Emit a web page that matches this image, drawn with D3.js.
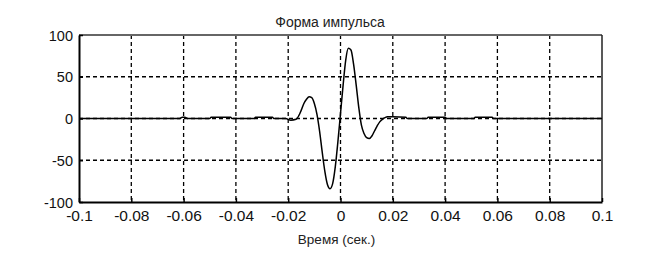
<!DOCTYPE html>
<html><head><meta charset="utf-8">
<script src="https://cdn.jsdelivr.net/npm/d3@7/dist/d3.min.js"></script>
<style>body{margin:0;background:#fff}svg{display:block}</style>
</head><body><svg id="c" width="666" height="255"></svg>
<script>
const tVals = [-0.1,-0.0615,-0.0605,-0.0595,-0.0585,-0.05,-0.0495,-0.042,-0.0415,-0.033,-0.0325,-0.026,-0.0255,-0.021,-0.019,-0.017,-0.016,-0.015,-0.014,-0.013,-0.012,-0.011,-0.010,-0.009,-0.008,-0.007,-0.006,-0.005,-0.004,-0.003,-0.002,-0.001,0,0.001,0.002,0.003,0.004,0.005,0.006,0.007,0.008,0.009,0.010,0.011,0.012,0.013,0.014,0.015,0.016,0.017,0.018,0.020,0.025,0.0255,0.033,0.0335,0.040,0.0405,0.051,0.0515,0.058,0.0585,0.1];
const yVals = [0,0,1.5,1.5,0,0,1.5,1.5,0,0,1.5,1.5,0,0,-2,-1,3,10,18,23,26,25,18,5,-15,-40,-63,-79,-84,-78,-58,-28,6,40,70,84,82,65,40,13,-8,-18,-23,-24,-21,-15,-9,-4,-1,1,2,2,1.5,0,0,1.5,1.5,0,0,1.5,1.5,0,0];
const xTicks = [-0.1,-0.08,-0.06,-0.04,-0.02,0,0.02,0.04,0.06,0.08,0.1];
const yTicks = [-100,-50,0,50,100];
const title = "Форма импульса";
const xLabel = "Время (сек.)";

const svg = d3.select("#c");
const L=79,R=602,T=35,B=202;
const x = d3.scaleLinear().domain([-0.1,0.1]).range([L,R]);
const y = d3.scaleLinear().domain([-100,100]).range([B,T]);
const font = "'Liberation Sans', Arial, sans-serif";

// grid
svg.append("g").selectAll("line").data(xTicks.slice(1,-1)).join("line")
  .attr("x1",d=>x(d)).attr("x2",d=>x(d)).attr("y1",T).attr("y2",B)
  .attr("stroke","#000").attr("stroke-width",1.3).attr("stroke-dasharray","4,3");
svg.append("g").selectAll("line").data(yTicks.slice(1,-1)).join("line")
  .attr("x1",L).attr("x2",R).attr("y1",d=>y(d)).attr("y2",d=>y(d))
  .attr("stroke","#000").attr("stroke-width",1.3).attr("stroke-dasharray","4,3");

// frame top/right
svg.append("line").attr("x1",L).attr("x2",R).attr("y1",T).attr("y2",T).attr("stroke","#666").attr("stroke-width",2);
svg.append("line").attr("x1",R).attr("x2",R).attr("y1",T).attr("y2",B).attr("stroke","#222").attr("stroke-width",1.5);

// axes
const fmt = d=> d===0?"0":String(d);
const xa = svg.append("g").attr("transform",`translate(0,${B})`)
  .call(d3.axisBottom(x).tickValues(xTicks).tickFormat(fmt).tickSizeInner(-4).tickSizeOuter(0).tickPadding(8));
const ya = svg.append("g").attr("transform",`translate(${L},0)`)
  .call(d3.axisLeft(y).tickValues(yTicks).tickFormat(fmt).tickSizeInner(-4).tickSizeOuter(0).tickPadding(6));
[xa,ya].forEach(a=>{
  a.select(".domain").attr("stroke","#000").attr("stroke-width",2);
  a.selectAll(".tick line").attr("stroke","#000").attr("stroke-width",1.5);
  a.selectAll("text").attr("fill","#111").attr("font-family",font);
});
xa.selectAll("text").attr("font-size",15.5);
ya.selectAll("text").attr("font-size",14.5).attr("dy","0.35em");

// signal
const line = d3.line().x((d,i)=>x(tVals[i])).y(d=>y(d)).curve(d3.curveMonotoneX);
svg.append("path").attr("d",line(yVals)).attr("fill","none").attr("stroke","#000").attr("stroke-width",1.5);

svg.append("text").attr("x",330).attr("y",27).attr("text-anchor","middle")
  .attr("font-family",font).attr("font-size",14).attr("fill","#222").text(title);
svg.append("text").attr("x",336.5).attr("y",244).attr("text-anchor","middle")
  .attr("font-family",font).attr("font-size",13.5).attr("fill","#222").text(xLabel);
</script></body></html>
